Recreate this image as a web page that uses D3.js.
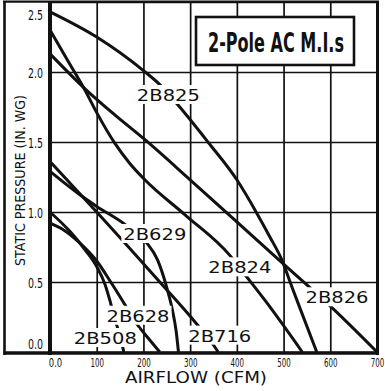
<!DOCTYPE html>
<html><head><meta charset="utf-8">
<script src="https://cdn.jsdelivr.net/npm/d3@7"></script>
<style>
html,body{margin:0;padding:0;background:#fff;}
svg{display:block;}
</style></head><body>
<svg id="chart" width="385" height="391"></svg>
<script>
// Fan performance curves: static pressure (in. WG) against airflow (CFM)
const xTicks = [0, 100, 200, 300, 400, 500, 600, 700];
const xTickLabels = ["0.0", "100", "200", "300", "400", "500", "600", "700"];
const yTicks = [0, 0.5, 1.0, 1.5, 2.0, 2.5];
const yTickLabels = ["0.0", "0.5", "1.0", "1.5", "2.0", "2.5"];

const models = ["2B825", "2B824", "2B826", "2B629", "2B716", "2B628", "2B508"];

const cfm2B825 = [0, 100, 200, 235, 275, 338, 400, 443, 471, 496, 514, 532, 571];
const sp2B825  = [2.43, 2.25, 2.01, 1.91, 1.76, 1.50, 1.23, 0.99, 0.82, 0.66, 0.50, 0.34, 0];

const cfm2B824 = [0, 40, 75, 100, 139, 170, 203, 289, 385, 418, 460, 540];
const sp2B824  = [2.30, 2.07, 1.87, 1.71, 1.49, 1.35, 1.23, 0.98, 0.69, 0.55, 0.37, 0];

const cfm2B826 = [0, 75, 140, 202, 300, 400, 496, 553, 596, 700];
const sp2B826  = [2.13, 1.88, 1.69, 1.52, 1.23, 0.93, 0.64, 0.47, 0.34, 0];

const cfm2B629 = [0, 61, 100, 161, 207, 230, 250, 262, 270, 275];
const sp2B629  = [1.29, 1.13, 1.04, 0.91, 0.78, 0.66, 0.46, 0.30, 0.15, 0];

const cfm2B716 = [0, 100, 235, 314, 350, 360];
const sp2B716  = [1.36, 1.00, 0.50, 0.20, 0.05, 0];

const cfm2B628 = [0, 30, 60, 100, 130, 162, 186, 210, 235];
const sp2B628  = [0.92, 0.87, 0.79, 0.65, 0.50, 0.33, 0.20, 0.10, 0];

const cfm2B508 = [0, 43, 75, 100, 118, 128, 136, 143, 151, 158];
const sp2B508  = [1.00, 0.86, 0.73, 0.61, 0.48, 0.37, 0.27, 0.19, 0.10, 0];

// where each model name sits: [airflow at left edge, pressure at baseline]
const labelAt = [[186, 1.793], [339, 0.562], [547, 0.348], [157, 0.80], [296, 0.074], [121, 0.216], [51, 0.057]];

const curveCfm = [cfm2B825, cfm2B824, cfm2B826, cfm2B629, cfm2B716, cfm2B628, cfm2B508];
const curveSp  = [sp2B825, sp2B824, sp2B826, sp2B629, sp2B716, sp2B628, sp2B508];

const svg = d3.select("#chart");
const x = d3.scaleLinear().domain([0, 700]).range([50, 377]);
const y = d3.scaleLinear().domain([0, 2.5]).range([352, 2]);

const ink = "#111";
const tickFont = "'Liberation Sans Narrow','Arial Narrow','DejaVu Sans Condensed',sans-serif";
const roundFont = "'DejaVu Sans',Verdana,sans-serif";

// grid via axis generators
const gx = svg.append("g").attr("transform", `translate(0,${y(0)})`)
  .call(d3.axisBottom(x).tickValues(xTicks).tickFormat((d, i) => xTickLabels[i])
    .tickSize(-(y(0) - y(2.5))).tickPadding(0));
gx.select(".domain").remove();
gx.selectAll(".tick line").attr("stroke", ink).attr("stroke-width", 1.7);
gx.selectAll(".tick text")
  .attr("y", 15).attr("dy", 0)
  .attr("dx", d => d === 0 ? 5 : 0)
  .attr("textLength", 13.5).attr("lengthAdjust", "spacingAndGlyphs")
  .attr("fill", ink)
  .style("font-family", tickFont).style("font-size", "12px");

const gy = svg.append("g").attr("transform", `translate(${x(0)},0)`)
  .call(d3.axisLeft(y).tickValues(yTicks).tickFormat((d, i) => yTickLabels[i])
    .tickSize(-(x(700) - x(0))).tickPadding(7));
gy.select(".domain").remove();
gy.selectAll(".tick line").attr("stroke", ink).attr("stroke-width", 1.7);
gy.selectAll(".tick text")
  .attr("x", -7)
  .attr("dy", d => d === 2.5 ? "1.28em" : d === 0 ? "-0.25em" : "0.42em")
  .attr("textLength", 15).attr("lengthAdjust", "spacingAndGlyphs")
  .attr("fill", ink)
  .style("font-family", tickFont).style("font-size", "13.5px");

// fan curves
const line = d3.line().x(d => x(d[0])).y(d => y(d[1])).curve(d3.curveMonotoneX);
models.forEach((m, k) => {
  const pts = curveCfm[k].map((c, i) => [c, curveSp[k][i]]);
  svg.append("path").datum(pts)
    .attr("d", line)
    .attr("fill", "none").attr("stroke", ink)
    .attr("stroke-width", 3).attr("stroke-linejoin", "round");
});

// model names on white patches
models.forEach((m, k) => {
  const lx = x(labelAt[k][0]), ly = y(labelAt[k][1]);
  svg.append("rect")
    .attr("x", lx - 2).attr("y", ly - 16)
    .attr("width", 67).attr("height", 19)
    .attr("fill", "#fff");
  svg.append("text")
    .attr("x", lx).attr("y", ly)
    .attr("textLength", 63).attr("lengthAdjust", "spacingAndGlyphs")
    .attr("fill", ink)
    .style("font-family", roundFont).style("font-size", "16.5px")
    .text(m);
});

// title box
svg.append("rect").attr("x", 196).attr("y", 17).attr("width", 158).attr("height", 48)
  .attr("fill", "#fff").attr("stroke", ink).attr("stroke-width", 2.6);
svg.append("text").attr("x", 276).attr("y", 52)
  .attr("text-anchor", "middle")
  .attr("textLength", 136).attr("lengthAdjust", "spacingAndGlyphs")
  .attr("fill", ink)
  .style("font-family", tickFont).style("font-weight", "bold").style("font-size", "27px")
  .text("2-Pole AC M.I.s");

// frame and axes
const frame = svg.append("g").attr("stroke", ink).attr("fill", "none");
frame.append("line").attr("x1", 3).attr("x2", 379).attr("y1", 1.6).attr("y2", 1.6).attr("stroke-width", 2.4);
frame.append("line").attr("x1", 4.5).attr("x2", 4.5).attr("y1", 1).attr("y2", 355).attr("stroke-width", 2.6);
frame.append("line").attr("x1", 377.5).attr("x2", 377.5).attr("y1", 1).attr("y2", 355).attr("stroke-width", 3);
frame.append("line").attr("x1", 3.5).attr("x2", 379).attr("y1", 353).attr("y2", 353).attr("stroke-width", 3.6);
frame.append("line").attr("x1", x(0)).attr("x2", x(0)).attr("y1", 1).attr("y2", 355).attr("stroke-width", 4);

// axis titles
svg.append("text").attr("x", 196).attr("y", 383)
  .attr("text-anchor", "middle")
  .attr("textLength", 142).attr("lengthAdjust", "spacingAndGlyphs")
  .attr("fill", ink)
  .style("font-family", roundFont).style("font-size", "16px")
  .text("AIRFLOW (CFM)");
svg.append("text")
  .attr("transform", "translate(24.5,180.5) rotate(-90)")
  .attr("text-anchor", "middle")
  .attr("textLength", 171).attr("lengthAdjust", "spacingAndGlyphs")
  .attr("fill", ink)
  .style("font-family", roundFont).style("font-size", "13.5px")
  .text("STATIC PRESSURE (IN. WG)");
</script>
</body></html>
